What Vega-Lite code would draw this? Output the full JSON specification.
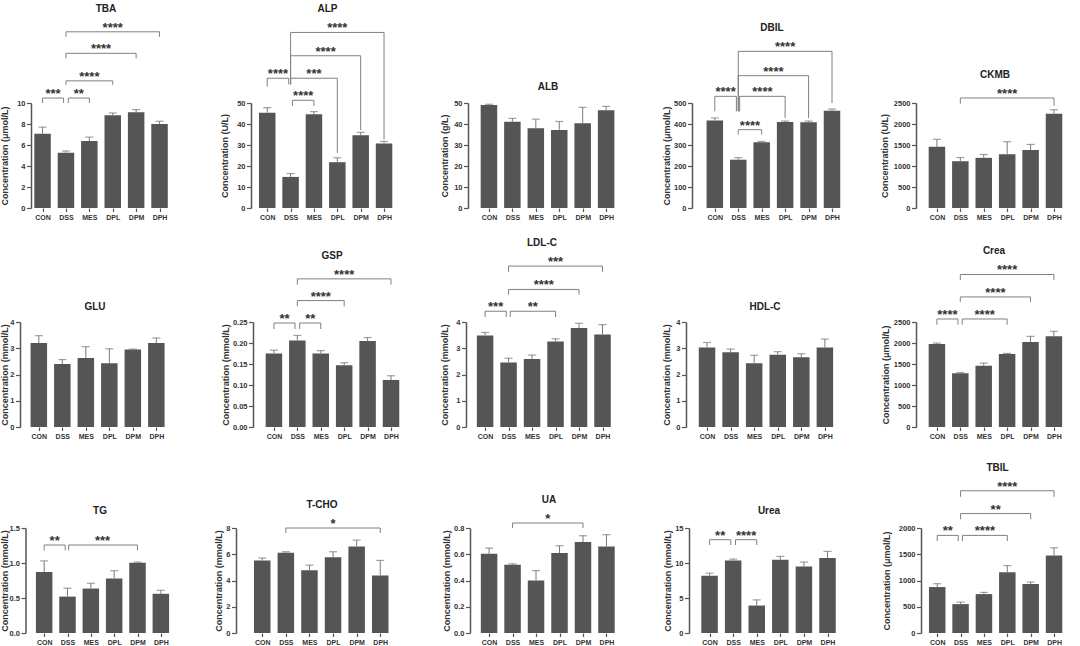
{
"$schema": "https://vega.github.io/schema/vega-lite/v6.json",
"padding": {"left": 0, "top": 3, "right": 0, "bottom": 0},
"columns": 1,
"align": "none",
"spacing": 22,
"datasets": {
"bars": [
{"p":"TBA","k":0,"g":"CON","v":7.07,"e":7.7},{"p":"TBA","k":1,"g":"DSS","v":5.27,"e":5.43},{"p":"TBA","k":2,"g":"MES","v":6.37,"e":6.75},{"p":"TBA","k":3,"g":"DPL","v":8.83,"e":9.05},{"p":"TBA","k":4,"g":"DPM","v":9.12,"e":9.37},{"p":"TBA","k":5,"g":"DPH","v":8.01,"e":8.26},
{"p":"ALP","k":0,"g":"CON","v":45.4,"e":47.8},{"p":"ALP","k":1,"g":"DSS","v":14.8,"e":16.4},{"p":"ALP","k":2,"g":"MES","v":44.6,"e":45.9},{"p":"ALP","k":3,"g":"DPL","v":21.8,"e":23.9},{"p":"ALP","k":4,"g":"DPM","v":34.7,"e":36.0},{"p":"ALP","k":5,"g":"DPH","v":30.7,"e":31.7},
{"p":"ALB","k":0,"g":"CON","v":49.0,"e":49.4},{"p":"ALB","k":1,"g":"DSS","v":41.1,"e":42.7},{"p":"ALB","k":2,"g":"MES","v":38.0,"e":42.3},{"p":"ALB","k":3,"g":"DPL","v":37.2,"e":41.2},{"p":"ALB","k":4,"g":"DPM","v":40.4,"e":47.9},{"p":"ALB","k":5,"g":"DPH","v":46.6,"e":48.4},
{"p":"DBIL","k":0,"g":"CON","v":417,"e":429},{"p":"DBIL","k":1,"g":"DSS","v":230,"e":240},{"p":"DBIL","k":2,"g":"MES","v":313,"e":317},{"p":"DBIL","k":3,"g":"DPL","v":410,"e":414},{"p":"DBIL","k":4,"g":"DPM","v":408,"e":414},{"p":"DBIL","k":5,"g":"DPH","v":463,"e":471},
{"p":"CKMB","k":0,"g":"CON","v":1458,"e":1635},{"p":"CKMB","k":1,"g":"DSS","v":1114,"e":1202},{"p":"CKMB","k":2,"g":"MES","v":1194,"e":1274},{"p":"CKMB","k":3,"g":"DPL","v":1282,"e":1578},{"p":"CKMB","k":4,"g":"DPM","v":1378,"e":1514},{"p":"CKMB","k":5,"g":"DPH","v":2244,"e":2340},
{"p":"GLU","k":0,"g":"CON","v":3.2,"e":3.48},{"p":"GLU","k":1,"g":"DSS","v":2.4,"e":2.57},{"p":"GLU","k":2,"g":"MES","v":2.63,"e":3.06},{"p":"GLU","k":3,"g":"DPL","v":2.43,"e":2.98},{"p":"GLU","k":4,"g":"DPM","v":2.95,"e":2.97},{"p":"GLU","k":5,"g":"DPH","v":3.2,"e":3.39},
{"p":"GSP","k":0,"g":"CON","v":0.175,"e":0.183},{"p":"GSP","k":1,"g":"DSS","v":0.206,"e":0.218},{"p":"GSP","k":2,"g":"MES","v":0.175,"e":0.182},{"p":"GSP","k":3,"g":"DPL","v":0.147,"e":0.153},{"p":"GSP","k":4,"g":"DPM","v":0.205,"e":0.213},{"p":"GSP","k":5,"g":"DPH","v":0.112,"e":0.122},
{"p":"LDL-C","k":0,"g":"CON","v":3.49,"e":3.6},{"p":"LDL-C","k":1,"g":"DSS","v":2.46,"e":2.62},{"p":"LDL-C","k":2,"g":"MES","v":2.59,"e":2.74},{"p":"LDL-C","k":3,"g":"DPL","v":3.26,"e":3.36},{"p":"LDL-C","k":4,"g":"DPM","v":3.77,"e":3.95},{"p":"LDL-C","k":5,"g":"DPH","v":3.52,"e":3.9},
{"p":"HDL-C","k":0,"g":"CON","v":3.03,"e":3.22},{"p":"HDL-C","k":1,"g":"DSS","v":2.85,"e":2.97},{"p":"HDL-C","k":2,"g":"MES","v":2.43,"e":2.73},{"p":"HDL-C","k":3,"g":"DPL","v":2.75,"e":2.87},{"p":"HDL-C","k":4,"g":"DPM","v":2.66,"e":2.79},{"p":"HDL-C","k":5,"g":"DPH","v":3.03,"e":3.35},
{"p":"Crea","k":0,"g":"CON","v":1975,"e":1998},{"p":"Crea","k":1,"g":"DSS","v":1282,"e":1298},{"p":"Crea","k":2,"g":"MES","v":1457,"e":1521},{"p":"Crea","k":3,"g":"DPL","v":1736,"e":1752},{"p":"Crea","k":4,"g":"DPM","v":2022,"e":2158},{"p":"Crea","k":5,"g":"DPH","v":2158,"e":2277},
{"p":"TG","k":0,"g":"CON","v":0.87,"e":1.03},{"p":"TG","k":1,"g":"DSS","v":0.52,"e":0.64},{"p":"TG","k":2,"g":"MES","v":0.635,"e":0.71},{"p":"TG","k":3,"g":"DPL","v":0.78,"e":0.89},{"p":"TG","k":4,"g":"DPM","v":1.003,"e":1.013},{"p":"TG","k":5,"g":"DPH","v":0.56,"e":0.61},
{"p":"T-CHO","k":0,"g":"CON","v":5.53,"e":5.71},{"p":"T-CHO","k":1,"g":"DSS","v":6.11,"e":6.19},{"p":"T-CHO","k":2,"g":"MES","v":4.79,"e":5.17},{"p":"T-CHO","k":3,"g":"DPL","v":5.78,"e":6.19},{"p":"T-CHO","k":4,"g":"DPM","v":6.6,"e":7.08},{"p":"T-CHO","k":5,"g":"DPH","v":4.38,"e":5.53},
{"p":"UA","k":0,"g":"CON","v":0.604,"e":0.647},{"p":"UA","k":1,"g":"DSS","v":0.52,"e":0.527},{"p":"UA","k":2,"g":"MES","v":0.40,"e":0.476},{"p":"UA","k":3,"g":"DPL","v":0.609,"e":0.665},{"p":"UA","k":4,"g":"DPM","v":0.693,"e":0.741},{"p":"UA","k":5,"g":"DPH","v":0.66,"e":0.749},
{"p":"Urea","k":0,"g":"CON","v":8.17,"e":8.55},{"p":"Urea","k":1,"g":"DSS","v":10.37,"e":10.56},{"p":"Urea","k":2,"g":"MES","v":3.92,"e":4.73},{"p":"Urea","k":3,"g":"DPL","v":10.46,"e":10.94},{"p":"Urea","k":4,"g":"DPM","v":9.51,"e":10.13},{"p":"Urea","k":5,"g":"DPH","v":10.7,"e":11.66},
{"p":"TBIL","k":0,"g":"CON","v":875,"e":939},{"p":"TBIL","k":1,"g":"DSS","v":550,"e":588},{"p":"TBIL","k":2,"g":"MES","v":741,"e":773},{"p":"TBIL","k":3,"g":"DPL","v":1157,"e":1284},{"p":"TBIL","k":4,"g":"DPM","v":933,"e":971},{"p":"TBIL","k":5,"g":"DPH","v":1476,"e":1623}
],
"br": [
{"p":"TBA","a":0,"b":0.9,"y":10.47,"ya":10.0,"yb":10.0,"m":0.45,"s":"***"},
{"p":"TBA","a":1.1,"b":2,"y":10.47,"ya":10.0,"yb":10.0,"m":1.55,"s":"**"},
{"p":"TBA","a":1,"b":3,"y":12.11,"ya":11.73,"yb":11.73,"m":2,"s":"****"},
{"p":"TBA","a":1,"b":4,"y":14.73,"ya":14.26,"yb":14.26,"m":2.5,"s":"****"},
{"p":"TBA","a":1,"b":5,"y":16.78,"ya":16.3,"yb":16.3,"m":3,"s":"****"},
{"p":"ALP","a":0,"b":0.92,"y":61.8,"ya":57.8,"yb":58.9,"m":0.46,"s":"****"},
{"p":"ALP","a":1.08,"b":2,"y":51.3,"ya":48.6,"yb":48.6,"m":1.54,"s":"****"},
{"p":"ALP","a":1,"b":3,"y":61.8,"ya":58.9,"yb":26.3,"m":2,"s":"***"},
{"p":"ALP","a":1,"b":4,"y":72.5,"ya":58.9,"yb":37.1,"m":2.5,"s":"****"},
{"p":"ALP","a":1,"b":5,"y":83.6,"ya":58.9,"yb":32.6,"m":3,"s":"****"},
{"p":"DBIL","a":0,"b":0.92,"y":531.7,"ya":460,"yb":460,"m":0.46,"s":"****"},
{"p":"DBIL","a":1,"b":2,"y":373,"ya":349,"yb":349,"m":1.5,"s":"****"},
{"p":"DBIL","a":1.06,"b":3,"y":531.7,"ya":460,"yb":428.6,"m":2.03,"s":"****"},
{"p":"DBIL","a":1,"b":4,"y":630,"ya":460,"yb":428.6,"m":2.5,"s":"****"},
{"p":"DBIL","a":1,"b":5,"y":746,"ya":460,"yb":500,"m":3,"s":"****"},
{"p":"CKMB","a":1,"b":5,"y":2620,"ya":2484,"yb":2436,"m":3,"s":"****"},
{"p":"GSP","a":0,"b":0.9,"y":0.2476,"ya":0.2333,"yb":0.2333,"m":0.45,"s":"**"},
{"p":"GSP","a":1.1,"b":2,"y":0.2476,"ya":0.2333,"yb":0.2333,"m":1.55,"s":"**"},
{"p":"GSP","a":1,"b":3,"y":0.301,"ya":0.2874,"yb":0.2874,"m":2,"s":"****"},
{"p":"GSP","a":1,"b":5,"y":0.3527,"ya":0.339,"yb":0.339,"m":3,"s":"****"},
{"p":"LDL-C","a":0,"b":0.9,"y":4.41,"ya":4.19,"yb":4.19,"m":0.45,"s":"***"},
{"p":"LDL-C","a":1.07,"b":3,"y":4.41,"ya":4.19,"yb":4.19,"m":2.03,"s":"**"},
{"p":"LDL-C","a":1,"b":4,"y":5.24,"ya":5.04,"yb":5.04,"m":2.5,"s":"****"},
{"p":"LDL-C","a":1,"b":5,"y":6.13,"ya":5.91,"yb":5.91,"m":3,"s":"***"},
{"p":"Crea","a":0,"b":0.9,"y":2572,"ya":2436,"yb":2436,"m":0.45,"s":"****"},
{"p":"Crea","a":1.08,"b":3,"y":2572,"ya":2436,"yb":2436,"m":2.04,"s":"****"},
{"p":"Crea","a":1,"b":4,"y":3097,"ya":2978,"yb":2978,"m":2.5,"s":"****"},
{"p":"Crea","a":1,"b":5,"y":3631,"ya":3495,"yb":3495,"m":3,"s":"****"},
{"p":"TG","a":0,"b":0.9,"y":1.257,"ya":1.18,"yb":1.18,"m":0.45,"s":"**"},
{"p":"TG","a":1.05,"b":4,"y":1.257,"ya":1.18,"yb":1.18,"m":2.5,"s":"***"},
{"p":"T-CHO","a":1,"b":5,"y":8.0,"ya":7.62,"yb":7.62,"m":3,"s":"*"},
{"p":"UA","a":1,"b":4,"y":0.838,"ya":0.8,"yb":0.8,"m":2.5,"s":"*"},
{"p":"Urea","a":0,"b":0.9,"y":13.33,"ya":12.57,"yb":12.57,"m":0.45,"s":"**"},
{"p":"Urea","a":1.1,"b":2,"y":13.33,"ya":12.57,"yb":12.57,"m":1.55,"s":"****"},
{"p":"TBIL","a":0,"b":0.9,"y":1859,"ya":1751,"yb":1751,"m":0.45,"s":"**"},
{"p":"TBIL","a":1.08,"b":3,"y":1859,"ya":1751,"yb":1751,"m":2.04,"s":"****"},
{"p":"TBIL","a":1,"b":4,"y":2275,"ya":2166,"yb":2166,"m":2.5,"s":"**"},
{"p":"TBIL","a":1,"b":5,"y":2709,"ya":2594,"yb":2594,"m":3,"s":"****"}
]
},
"concat": [
{"concat": [
{"hconcat": [
{"width":156,"height":105,"title":{"text":"TBA","dx":-3},"data":{"name":"bars"},"transform":[{"filter":"datum.p === 'TBA'"}],
"encoding":{"x":{"field":"k","type":"quantitative","scale":{"domain":[-0.28,5.96]},"axis":{"values":[0,1,2,3,4,5],"labelExpr":"['CON','DSS','MES','DPL','DPM','DPH'][datum.value]","title":null}},
"y":{"field":"v","type":"quantitative","scale":{"domain":[0,10]},"axis":{"values":[0,2,4,6,8,10],"format":"d","title":"Concentration (μmol/L)","minExtent":21.4,"maxExtent":21.4}}},
"layer":[
{"mark":{"type":"bar","width":16.5}},
{"mark":"rule","encoding":{"y2":{"field":"e"}}},
{"mark":{"type":"tick","orient":"horizontal","size":8,"thickness":1.2},"encoding":{"y":{"field":"e","type":"quantitative"}}},
{"data":{"values":[{}]},"mark":{"type":"rule","color":"#555","strokeWidth":1.5},"encoding":{"x":{"datum":-0.28,"type":"quantitative"},"x2":{"datum":5.56},"y":{"datum":0,"type":"quantitative"}}},
{"data":{"name":"br"},"transform":[{"filter":"datum.p === 'TBA'"}],"layer":[
{"mark":{"type":"rule","color":"#808080"},"encoding":{"x":{"field":"a","type":"quantitative"},"x2":{"field":"b"},"y":{"field":"y","type":"quantitative"}}},
{"mark":{"type":"rule","color":"#808080"},"encoding":{"x":{"field":"a","type":"quantitative"},"y":{"field":"ya","type":"quantitative"},"y2":{"field":"y"}}},
{"mark":{"type":"rule","color":"#808080"},"encoding":{"x":{"field":"b","type":"quantitative"},"y":{"field":"yb","type":"quantitative"},"y2":{"field":"y"}}},
{"mark":{"type":"text","fontSize":13,"fontWeight":"bold","color":"#333","baseline":"alphabetic"},"encoding":{"x":{"field":"m","type":"quantitative"},"y":{"field":"y","type":"quantitative"},"text":{"field":"s"}}}
]}
]},
{"width":153,"height":105,"title":{"text":"ALP"},"data":{"name":"bars"},"transform":[{"filter":"datum.p === 'ALP'"}],
"encoding":{"x":{"field":"k","type":"quantitative","scale":{"domain":[-0.48,5.64]},"axis":{"values":[0,1,2,3,4,5],"labelExpr":"['CON','DSS','MES','DPL','DPM','DPH'][datum.value]","title":null}},
"y":{"field":"v","type":"quantitative","scale":{"domain":[0,50]},"axis":{"values":[0,10,20,30,40,50],"format":"d","title":"Concentration (U/L)","minExtent":21.7,"maxExtent":21.7}}},
"layer":[
{"mark":{"type":"bar","width":16.5}},
{"mark":"rule","encoding":{"y2":{"field":"e"}}},
{"mark":{"type":"tick","orient":"horizontal","size":8,"thickness":1.2},"encoding":{"y":{"field":"e","type":"quantitative"}}},
{"data":{"values":[{}]},"mark":{"type":"rule","color":"#555","strokeWidth":1.5},"encoding":{"x":{"datum":-0.48,"type":"quantitative"},"x2":{"datum":5.64},"y":{"datum":0,"type":"quantitative"}}},
{"data":{"name":"br"},"transform":[{"filter":"datum.p === 'ALP'"}],"layer":[
{"mark":{"type":"rule","color":"#808080"},"encoding":{"x":{"field":"a","type":"quantitative"},"x2":{"field":"b"},"y":{"field":"y","type":"quantitative"}}},
{"mark":{"type":"rule","color":"#808080"},"encoding":{"x":{"field":"a","type":"quantitative"},"y":{"field":"ya","type":"quantitative"},"y2":{"field":"y"}}},
{"mark":{"type":"rule","color":"#808080"},"encoding":{"x":{"field":"b","type":"quantitative"},"y":{"field":"yb","type":"quantitative"},"y2":{"field":"y"}}},
{"mark":{"type":"text","fontSize":13,"fontWeight":"bold","color":"#333","baseline":"alphabetic"},"encoding":{"x":{"field":"m","type":"quantitative"},"y":{"field":"y","type":"quantitative"},"text":{"field":"s"}}}
]}
]},
{"width":160,"height":105,"title":{"text":"ALB","offset":7},"data":{"name":"bars"},"transform":[{"filter":"datum.p === 'ALB'"}],
"encoding":{"x":{"field":"k","type":"quantitative","scale":{"domain":[-0.68,5.72]},"axis":{"values":[0,1,2,3,4,5],"labelExpr":"['CON','DSS','MES','DPL','DPM','DPH'][datum.value]","title":null}},
"y":{"field":"v","type":"quantitative","scale":{"domain":[0,50]},"axis":{"values":[0,10,20,30,40,50],"format":"d","title":"Concentration (g/L)","minExtent":18.3,"maxExtent":18.3}}},
"layer":[
{"mark":{"type":"bar","width":16.5}},
{"mark":"rule","encoding":{"y2":{"field":"e"}}},
{"mark":{"type":"tick","orient":"horizontal","size":8,"thickness":1.2},"encoding":{"y":{"field":"e","type":"quantitative"}}},
{"data":{"values":[{}]},"mark":{"type":"rule","color":"#555","strokeWidth":1.5},"encoding":{"x":{"datum":-0.68,"type":"quantitative"},"x2":{"datum":5.64},"y":{"datum":0,"type":"quantitative"}}}
]},
{"width":160,"height":105,"title":{"text":"DBIL"},"data":{"name":"bars"},"transform":[{"filter":"datum.p === 'DBIL'"}],
"encoding":{"x":{"field":"k","type":"quantitative","scale":{"domain":[-0.76,5.64]},"axis":{"values":[0,1,2,3,4,5],"labelExpr":"['CON','DSS','MES','DPL','DPM','DPH'][datum.value]","title":null}},
"y":{"field":"v","type":"quantitative","scale":{"domain":[0,500]},"axis":{"values":[0,100,200,300,400,500],"format":"d","title":"Concentration (μmol/L)","minExtent":20.7,"maxExtent":20.7}}},
"layer":[
{"mark":{"type":"bar","width":16.5}},
{"mark":"rule","encoding":{"y2":{"field":"e"}}},
{"mark":{"type":"tick","orient":"horizontal","size":8,"thickness":1.2},"encoding":{"y":{"field":"e","type":"quantitative"}}},
{"data":{"values":[{}]},"mark":{"type":"rule","color":"#555","strokeWidth":1.5},"encoding":{"x":{"datum":-0.76,"type":"quantitative"},"x2":{"datum":5.6},"y":{"datum":0,"type":"quantitative"}}},
{"data":{"name":"br"},"transform":[{"filter":"datum.p === 'DBIL'"}],"layer":[
{"mark":{"type":"rule","color":"#808080"},"encoding":{"x":{"field":"a","type":"quantitative"},"x2":{"field":"b"},"y":{"field":"y","type":"quantitative"}}},
{"mark":{"type":"rule","color":"#808080"},"encoding":{"x":{"field":"a","type":"quantitative"},"y":{"field":"ya","type":"quantitative"},"y2":{"field":"y"}}},
{"mark":{"type":"rule","color":"#808080"},"encoding":{"x":{"field":"b","type":"quantitative"},"y":{"field":"yb","type":"quantitative"},"y2":{"field":"y"}}},
{"mark":{"type":"text","fontSize":13,"fontWeight":"bold","color":"#333","baseline":"alphabetic"},"encoding":{"x":{"field":"m","type":"quantitative"},"y":{"field":"y","type":"quantitative"},"text":{"field":"s"}}}
]}
]},
{"width":158,"height":105,"title":{"text":"CKMB"},"data":{"name":"bars"},"transform":[{"filter":"datum.p === 'CKMB'"}],
"encoding":{"x":{"field":"k","type":"quantitative","scale":{"domain":[-0.68,5.64]},"axis":{"values":[0,1,2,3,4,5],"labelExpr":"['CON','DSS','MES','DPL','DPM','DPH'][datum.value]","title":null}},
"y":{"field":"v","type":"quantitative","scale":{"domain":[0,2500]},"axis":{"values":[0,500,1000,1500,2000,2500],"format":"d","title":"Concentration (U/L)","minExtent":26.3,"maxExtent":26.3}}},
"layer":[
{"mark":{"type":"bar","width":16.5}},
{"mark":"rule","encoding":{"y2":{"field":"e"}}},
{"mark":{"type":"tick","orient":"horizontal","size":8,"thickness":1.2},"encoding":{"y":{"field":"e","type":"quantitative"}}},
{"data":{"values":[{}]},"mark":{"type":"rule","color":"#555","strokeWidth":1.5},"encoding":{"x":{"datum":-0.68,"type":"quantitative"},"x2":{"datum":5.64},"y":{"datum":0,"type":"quantitative"}}},
{"data":{"name":"br"},"transform":[{"filter":"datum.p === 'CKMB'"}],"layer":[
{"mark":{"type":"rule","color":"#808080"},"encoding":{"x":{"field":"a","type":"quantitative"},"x2":{"field":"b"},"y":{"field":"y","type":"quantitative"}}},
{"mark":{"type":"rule","color":"#808080"},"encoding":{"x":{"field":"a","type":"quantitative"},"y":{"field":"ya","type":"quantitative"},"y2":{"field":"y"}}},
{"mark":{"type":"rule","color":"#808080"},"encoding":{"x":{"field":"b","type":"quantitative"},"y":{"field":"yb","type":"quantitative"},"y2":{"field":"y"}}},
{"mark":{"type":"text","fontSize":13,"fontWeight":"bold","color":"#333","baseline":"alphabetic"},"encoding":{"x":{"field":"m","type":"quantitative"},"y":{"field":"y","type":"quantitative"},"text":{"field":"s"}}}
]}
]}
], "spacing": 64, "bounds": "flush"},
{"hconcat": [
{"width":167,"height":105,"title":{"text":"GLU","dx":-19.5,"offset":6},"data":{"name":"bars"},"transform":[{"filter":"datum.p === 'GLU'"}],
"encoding":{"x":{"field":"k","type":"quantitative","scale":{"domain":[-0.12,6.56]},"axis":{"values":[0,1,2,3,4,5],"labelExpr":"['CON','DSS','MES','DPL','DPM','DPH'][datum.value]","title":null}},
"y":{"field":"v","type":"quantitative","scale":{"domain":[0,4]},"axis":{"values":[0,1,2,3,4],"format":"d","title":"Concentration (mmol/L)","minExtent":10.4,"maxExtent":10.4,"offset":11}}},
"layer":[
{"mark":{"type":"bar","width":16.5}},
{"mark":"rule","encoding":{"y2":{"field":"e"}}},
{"mark":{"type":"tick","orient":"horizontal","size":8,"thickness":1.2},"encoding":{"y":{"field":"e","type":"quantitative"}}},
{"data":{"values":[{}]},"mark":{"type":"rule","color":"#555","strokeWidth":1.5},"encoding":{"x":{"datum":-0.56,"type":"quantitative"},"x2":{"datum":5.64},"y":{"datum":0,"type":"quantitative"}}}
]},
{"width":158,"height":105,"title":{"text":"GSP"},"data":{"name":"bars"},"transform":[{"filter":"datum.p === 'GSP'"}],
"encoding":{"x":{"field":"k","type":"quantitative","scale":{"domain":[-0.68,5.64]},"axis":{"values":[0,1,2,3,4,5],"labelExpr":"['CON','DSS','MES','DPL','DPM','DPH'][datum.value]","title":null}},
"y":{"field":"v","type":"quantitative","scale":{"domain":[0,0.25]},"axis":{"values":[0,0.05,0.1,0.15,0.2,0.25],"format":".2f","title":"Concentration (mmol/L)","minExtent":23,"maxExtent":23}}},
"layer":[
{"mark":{"type":"bar","width":16.5}},
{"mark":"rule","encoding":{"y2":{"field":"e"}}},
{"mark":{"type":"tick","orient":"horizontal","size":8,"thickness":1.2},"encoding":{"y":{"field":"e","type":"quantitative"}}},
{"data":{"values":[{}]},"mark":{"type":"rule","color":"#555","strokeWidth":1.5},"encoding":{"x":{"datum":-0.68,"type":"quantitative"},"x2":{"datum":5.64},"y":{"datum":0,"type":"quantitative"}}},
{"data":{"name":"br"},"transform":[{"filter":"datum.p === 'GSP'"}],"layer":[
{"mark":{"type":"rule","color":"#808080"},"encoding":{"x":{"field":"a","type":"quantitative"},"x2":{"field":"b"},"y":{"field":"y","type":"quantitative"}}},
{"mark":{"type":"rule","color":"#808080"},"encoding":{"x":{"field":"a","type":"quantitative"},"y":{"field":"ya","type":"quantitative"},"y2":{"field":"y"}}},
{"mark":{"type":"rule","color":"#808080"},"encoding":{"x":{"field":"b","type":"quantitative"},"y":{"field":"yb","type":"quantitative"},"y2":{"field":"y"}}},
{"mark":{"type":"text","fontSize":13,"fontWeight":"bold","color":"#333","baseline":"alphabetic"},"encoding":{"x":{"field":"m","type":"quantitative"},"y":{"field":"y","type":"quantitative"},"text":{"field":"s"}}}
]}
]},
{"width":165,"height":105,"title":{"text":"LDL-C","dx":-6.5},"data":{"name":"bars"},"transform":[{"filter":"datum.p === 'LDL-C'"}],
"encoding":{"x":{"field":"k","type":"quantitative","scale":{"domain":[-0.6,6.0]},"axis":{"values":[0,1,2,3,4,5],"labelExpr":"['CON','DSS','MES','DPL','DPM','DPH'][datum.value]","title":null}},
"y":{"field":"v","type":"quantitative","scale":{"domain":[0,4]},"axis":{"values":[0,1,2,3,4],"format":"d","title":"Concentration (mmol/L)","minExtent":17,"maxExtent":17}}},
"layer":[
{"mark":{"type":"bar","width":16.5}},
{"mark":"rule","encoding":{"y2":{"field":"e"}}},
{"mark":{"type":"tick","orient":"horizontal","size":8,"thickness":1.2},"encoding":{"y":{"field":"e","type":"quantitative"}}},
{"data":{"values":[{}]},"mark":{"type":"rule","color":"#555","strokeWidth":1.5},"encoding":{"x":{"datum":-0.6,"type":"quantitative"},"x2":{"datum":5.72},"y":{"datum":0,"type":"quantitative"}}},
{"data":{"name":"br"},"transform":[{"filter":"datum.p === 'LDL-C'"}],"layer":[
{"mark":{"type":"rule","color":"#808080"},"encoding":{"x":{"field":"a","type":"quantitative"},"x2":{"field":"b"},"y":{"field":"y","type":"quantitative"}}},
{"mark":{"type":"rule","color":"#808080"},"encoding":{"x":{"field":"a","type":"quantitative"},"y":{"field":"ya","type":"quantitative"},"y2":{"field":"y"}}},
{"mark":{"type":"rule","color":"#808080"},"encoding":{"x":{"field":"b","type":"quantitative"},"y":{"field":"yb","type":"quantitative"},"y2":{"field":"y"}}},
{"mark":{"type":"text","fontSize":13,"fontWeight":"bold","color":"#333","baseline":"alphabetic"},"encoding":{"x":{"field":"m","type":"quantitative"},"y":{"field":"y","type":"quantitative"},"text":{"field":"s"}}}
]}
]},
{"width":175,"height":105,"title":{"text":"HDL-C","dx":-8.5,"offset":6},"data":{"name":"bars"},"transform":[{"filter":"datum.p === 'HDL-C'"}],
"encoding":{"x":{"field":"k","type":"quantitative","scale":{"domain":[-0.68,6.32]},"axis":{"values":[0,1,2,3,4,5],"labelExpr":"['CON','DSS','MES','DPL','DPM','DPH'][datum.value]","title":null}},
"y":{"field":"v","type":"quantitative","scale":{"domain":[0,4]},"axis":{"values":[0,1,2,3,4],"format":"d","title":"Concentration (mmol/L)","minExtent":14.7,"maxExtent":14.7}}},
"layer":[
{"mark":{"type":"bar","width":16.5}},
{"mark":"rule","encoding":{"y2":{"field":"e"}}},
{"mark":{"type":"tick","orient":"horizontal","size":8,"thickness":1.2},"encoding":{"y":{"field":"e","type":"quantitative"}}},
{"data":{"values":[{}]},"mark":{"type":"rule","color":"#555","strokeWidth":1.5},"encoding":{"x":{"datum":-0.68,"type":"quantitative"},"x2":{"datum":5.64},"y":{"datum":0,"type":"quantitative"}}}
]},
{"width":156,"height":105,"title":{"text":"Crea"},"data":{"name":"bars"},"transform":[{"filter":"datum.p === 'Crea'"}],
"encoding":{"x":{"field":"k","type":"quantitative","scale":{"domain":[-0.68,5.56]},"axis":{"values":[0,1,2,3,4,5],"labelExpr":"['CON','DSS','MES','DPL','DPM','DPH'][datum.value]","title":null}},
"y":{"field":"v","type":"quantitative","scale":{"domain":[0,2500]},"axis":{"values":[0,500,1000,1500,2000,2500],"format":"d","title":"Concentration (μmol/L)","minExtent":26,"maxExtent":26}}},
"layer":[
{"mark":{"type":"bar","width":16.5}},
{"mark":"rule","encoding":{"y2":{"field":"e"}}},
{"mark":{"type":"tick","orient":"horizontal","size":8,"thickness":1.2},"encoding":{"y":{"field":"e","type":"quantitative"}}},
{"data":{"values":[{}]},"mark":{"type":"rule","color":"#555","strokeWidth":1.5},"encoding":{"x":{"datum":-0.68,"type":"quantitative"},"x2":{"datum":5.56},"y":{"datum":0,"type":"quantitative"}}},
{"data":{"name":"br"},"transform":[{"filter":"datum.p === 'Crea'"}],"layer":[
{"mark":{"type":"rule","color":"#808080"},"encoding":{"x":{"field":"a","type":"quantitative"},"x2":{"field":"b"},"y":{"field":"y","type":"quantitative"}}},
{"mark":{"type":"rule","color":"#808080"},"encoding":{"x":{"field":"a","type":"quantitative"},"y":{"field":"ya","type":"quantitative"},"y2":{"field":"y"}}},
{"mark":{"type":"rule","color":"#808080"},"encoding":{"x":{"field":"b","type":"quantitative"},"y":{"field":"yb","type":"quantitative"},"y2":{"field":"y"}}},
{"mark":{"type":"text","fontSize":13,"fontWeight":"bold","color":"#333","baseline":"alphabetic"},"encoding":{"x":{"field":"m","type":"quantitative"},"y":{"field":"y","type":"quantitative"},"text":{"field":"s"}}}
]}
]}
], "spacing": 55, "bounds": "flush"}
], "columns": 1, "align": "none", "spacing": 17},
{"hconcat": [
{"width":150,"height":105,"title":{"text":"TG","dx":-6},"data":{"name":"bars"},"transform":[{"filter":"datum.p === 'TG'"}],
"encoding":{"x":{"field":"k","type":"quantitative","scale":{"domain":[-0.35,5.65]},"axis":{"values":[0,1,2,3,4,5],"labelExpr":"['CON','DSS','MES','DPL','DPM','DPH'][datum.value]","title":null}},
"y":{"field":"v","type":"quantitative","scale":{"domain":[0,1.5]},"axis":{"values":[0,0.5,1,1.5],"format":".1f","title":"Concentration (mmol/L)","minExtent":15.9,"maxExtent":15.9,"offset":5.5}}},
"layer":[
{"mark":{"type":"bar","width":16.5}},
{"mark":"rule","encoding":{"y2":{"field":"e"}}},
{"mark":{"type":"tick","orient":"horizontal","size":8,"thickness":1.2},"encoding":{"y":{"field":"e","type":"quantitative"}}},
{"data":{"values":[{}]},"mark":{"type":"rule","color":"#555","strokeWidth":1.5},"encoding":{"x":{"datum":-0.57,"type":"quantitative"},"x2":{"datum":5.65},"y":{"datum":0,"type":"quantitative"}}},
{"data":{"name":"br"},"transform":[{"filter":"datum.p === 'TG'"}],"layer":[
{"mark":{"type":"rule","color":"#808080"},"encoding":{"x":{"field":"a","type":"quantitative"},"x2":{"field":"b"},"y":{"field":"y","type":"quantitative"}}},
{"mark":{"type":"rule","color":"#808080"},"encoding":{"x":{"field":"a","type":"quantitative"},"y":{"field":"ya","type":"quantitative"},"y2":{"field":"y"}}},
{"mark":{"type":"rule","color":"#808080"},"encoding":{"x":{"field":"b","type":"quantitative"},"y":{"field":"yb","type":"quantitative"},"y2":{"field":"y"}}},
{"mark":{"type":"text","fontSize":13,"fontWeight":"bold","color":"#333","baseline":"alphabetic"},"encoding":{"x":{"field":"m","type":"quantitative"},"y":{"field":"y","type":"quantitative"},"text":{"field":"s"}}}
]}
]},
{"width":179,"height":105,"title":{"text":"T-CHO","dx":-3.5},"data":{"name":"bars"},"transform":[{"filter":"datum.p === 'T-CHO'"}],
"encoding":{"x":{"field":"k","type":"quantitative","scale":{"domain":[-0.9,6.26]},"axis":{"values":[0,1,2,3,4,5],"labelExpr":"['CON','DSS','MES','DPL','DPM','DPH'][datum.value]","title":null}},
"y":{"field":"v","type":"quantitative","scale":{"domain":[0,8]},"axis":{"values":[0,2,4,6,8],"format":"d","title":"Concentration (mmol/L)","minExtent":13,"maxExtent":13}}},
"layer":[
{"mark":{"type":"bar","width":16.5}},
{"mark":"rule","encoding":{"y2":{"field":"e"}}},
{"mark":{"type":"tick","orient":"horizontal","size":8,"thickness":1.2},"encoding":{"y":{"field":"e","type":"quantitative"}}},
{"data":{"values":[{}]},"mark":{"type":"rule","color":"#555","strokeWidth":1.5},"encoding":{"x":{"datum":-0.9,"type":"quantitative"},"x2":{"datum":5.66},"y":{"datum":0,"type":"quantitative"}}},
{"data":{"name":"br"},"transform":[{"filter":"datum.p === 'T-CHO'"}],"layer":[
{"mark":{"type":"rule","color":"#808080"},"encoding":{"x":{"field":"a","type":"quantitative"},"x2":{"field":"b"},"y":{"field":"y","type":"quantitative"}}},
{"mark":{"type":"rule","color":"#808080"},"encoding":{"x":{"field":"a","type":"quantitative"},"y":{"field":"ya","type":"quantitative"},"y2":{"field":"y"}}},
{"mark":{"type":"rule","color":"#808080"},"encoding":{"x":{"field":"b","type":"quantitative"},"y":{"field":"yb","type":"quantitative"},"y2":{"field":"y"}}},
{"mark":{"type":"text","fontSize":13,"fontWeight":"bold","color":"#333","baseline":"alphabetic"},"encoding":{"x":{"field":"m","type":"quantitative"},"y":{"field":"y","type":"quantitative"},"text":{"field":"s"}}}
]}
]},
{"width":164,"height":105,"title":{"text":"UA","dx":-3},"data":{"name":"bars"},"transform":[{"filter":"datum.p === 'UA'"}],
"encoding":{"x":{"field":"k","type":"quantitative","scale":{"domain":[-0.6,5.96]},"axis":{"values":[0,1,2,3,4,5],"labelExpr":"['CON','DSS','MES','DPL','DPM','DPH'][datum.value]","title":null}},
"y":{"field":"v","type":"quantitative","scale":{"domain":[0,0.8]},"axis":{"values":[0,0.2,0.4,0.6,0.8],"format":".1f","title":"Concentration (mmol/L)","minExtent":19,"maxExtent":19}}},
"layer":[
{"mark":{"type":"bar","width":16.5}},
{"mark":"rule","encoding":{"y2":{"field":"e"}}},
{"mark":{"type":"tick","orient":"horizontal","size":8,"thickness":1.2},"encoding":{"y":{"field":"e","type":"quantitative"}}},
{"data":{"values":[{}]},"mark":{"type":"rule","color":"#555","strokeWidth":1.5},"encoding":{"x":{"datum":-0.6,"type":"quantitative"},"x2":{"datum":5.72},"y":{"datum":0,"type":"quantitative"}}},
{"data":{"name":"br"},"transform":[{"filter":"datum.p === 'UA'"}],"layer":[
{"mark":{"type":"rule","color":"#808080"},"encoding":{"x":{"field":"a","type":"quantitative"},"x2":{"field":"b"},"y":{"field":"y","type":"quantitative"}}},
{"mark":{"type":"rule","color":"#808080"},"encoding":{"x":{"field":"a","type":"quantitative"},"y":{"field":"ya","type":"quantitative"},"y2":{"field":"y"}}},
{"mark":{"type":"rule","color":"#808080"},"encoding":{"x":{"field":"b","type":"quantitative"},"y":{"field":"yb","type":"quantitative"},"y2":{"field":"y"}}},
{"mark":{"type":"text","fontSize":13,"fontWeight":"bold","color":"#333","baseline":"alphabetic"},"encoding":{"x":{"field":"m","type":"quantitative"},"y":{"field":"y","type":"quantitative"},"text":{"field":"s"}}}
]}
]},
{"width":177,"height":105,"title":{"text":"Urea","dx":-8.5},"data":{"name":"bars"},"transform":[{"filter":"datum.p === 'Urea'"}],
"encoding":{"x":{"field":"k","type":"quantitative","scale":{"domain":[-0.66,6.42]},"axis":{"values":[0,1,2,3,4,5],"labelExpr":"['CON','DSS','MES','DPL','DPM','DPH'][datum.value]","title":null}},
"y":{"field":"v","type":"quantitative","scale":{"domain":[0,15]},"axis":{"values":[0,5,10,15],"format":"d","title":"Concentration (mmol/L)","minExtent":17,"maxExtent":17}}},
"layer":[
{"mark":{"type":"bar","width":16.5}},
{"mark":"rule","encoding":{"y2":{"field":"e"}}},
{"mark":{"type":"tick","orient":"horizontal","size":8,"thickness":1.2},"encoding":{"y":{"field":"e","type":"quantitative"}}},
{"data":{"values":[{}]},"mark":{"type":"rule","color":"#555","strokeWidth":1.5},"encoding":{"x":{"datum":-0.66,"type":"quantitative"},"x2":{"datum":5.66},"y":{"datum":0,"type":"quantitative"}}},
{"data":{"name":"br"},"transform":[{"filter":"datum.p === 'Urea'"}],"layer":[
{"mark":{"type":"rule","color":"#808080"},"encoding":{"x":{"field":"a","type":"quantitative"},"x2":{"field":"b"},"y":{"field":"y","type":"quantitative"}}},
{"mark":{"type":"rule","color":"#808080"},"encoding":{"x":{"field":"a","type":"quantitative"},"y":{"field":"ya","type":"quantitative"},"y2":{"field":"y"}}},
{"mark":{"type":"rule","color":"#808080"},"encoding":{"x":{"field":"b","type":"quantitative"},"y":{"field":"yb","type":"quantitative"},"y2":{"field":"y"}}},
{"mark":{"type":"text","fontSize":13,"fontWeight":"bold","color":"#333","baseline":"alphabetic"},"encoding":{"x":{"field":"m","type":"quantitative"},"y":{"field":"y","type":"quantitative"},"text":{"field":"s"}}}
]}
]},
{"width":153,"height":105,"title":{"text":"TBIL"},"data":{"name":"bars"},"transform":[{"filter":"datum.p === 'TBIL'"}],
"encoding":{"x":{"field":"k","type":"quantitative","scale":{"domain":[-0.48,5.64]},"axis":{"values":[0,1,2,3,4,5],"labelExpr":"['CON','DSS','MES','DPL','DPM','DPH'][datum.value]","title":null}},
"y":{"field":"v","type":"quantitative","scale":{"domain":[0,2000]},"axis":{"values":[0,500,1000,1500,2000],"format":"d","title":"Concentration (μmol/L)","minExtent":29.3,"maxExtent":29.3}}},
"layer":[
{"mark":{"type":"bar","width":16.5}},
{"mark":"rule","encoding":{"y2":{"field":"e"}}},
{"mark":{"type":"tick","orient":"horizontal","size":8,"thickness":1.2},"encoding":{"y":{"field":"e","type":"quantitative"}}},
{"data":{"values":[{}]},"mark":{"type":"rule","color":"#555","strokeWidth":1.5},"encoding":{"x":{"datum":-0.48,"type":"quantitative"},"x2":{"datum":5.64},"y":{"datum":0,"type":"quantitative"}}},
{"data":{"name":"br"},"transform":[{"filter":"datum.p === 'TBIL'"}],"layer":[
{"mark":{"type":"rule","color":"#808080"},"encoding":{"x":{"field":"a","type":"quantitative"},"x2":{"field":"b"},"y":{"field":"y","type":"quantitative"}}},
{"mark":{"type":"rule","color":"#808080"},"encoding":{"x":{"field":"a","type":"quantitative"},"y":{"field":"ya","type":"quantitative"},"y2":{"field":"y"}}},
{"mark":{"type":"rule","color":"#808080"},"encoding":{"x":{"field":"b","type":"quantitative"},"y":{"field":"yb","type":"quantitative"},"y2":{"field":"y"}}},
{"mark":{"type":"text","fontSize":13,"fontWeight":"bold","color":"#333","baseline":"alphabetic"},"encoding":{"x":{"field":"m","type":"quantitative"},"y":{"field":"y","type":"quantitative"},"text":{"field":"s"}}}
]}
]}
], "spacing": 55, "bounds": "flush"}
],
"config": {
"view": {"stroke": null},
"font": "Liberation Sans",
"title": {"font": "Liberation Sans", "fontSize": 10, "fontWeight": "bold", "color": "#222", "offset": 8, "frame": "group", "anchor": "middle"},
"axis": {"labelFont": "Liberation Sans", "labelFontWeight": "bold", "labelColor": "#333", "titleFont": "Liberation Sans", "titleFontWeight": "bold", "titleColor": "#333", "titleFontSize": 9, "tickColor": "#555", "domainColor": "#555", "domainWidth": 1.5, "tickWidth": 1.2, "tickSize": 4.5, "grid": false, "titlePadding": 0},
"axisX": {"domain": false, "labelFontSize": 7, "labelFlush": false, "labelOverlap": false, "labelPadding": 2, "tickSize": 3.5},
"axisY": {"labelFontSize": 7.5, "labelOverlap": false, "labelPadding": 1.5},
"bar": {"color": "#555555"},
"rule": {"color": "#7a7a7a", "strokeWidth": 1},
"tick": {"color": "#7a7a7a"}
}
}
